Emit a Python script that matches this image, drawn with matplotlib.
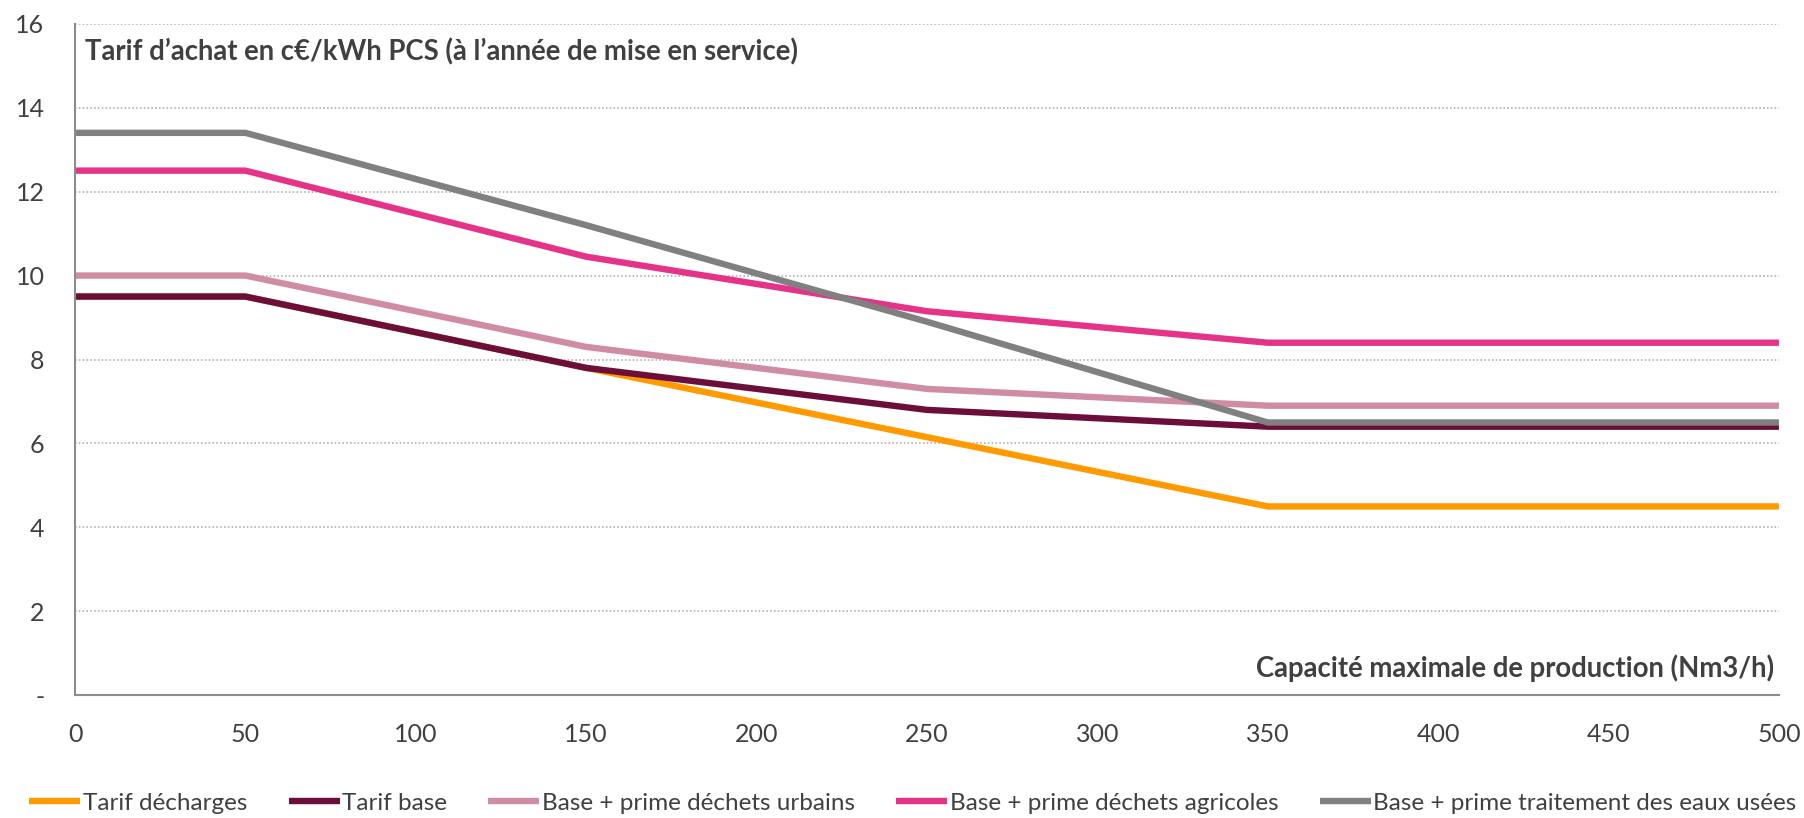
import matplotlib.pyplot as plt

plt.rcParams['font.family'] = ['Lato', 'DejaVu Sans']

# capacity breakpoints (Nm3/h)
capacity = [0, 50, 150, 250, 350, 500]

# purchase tariffs in c€/kWh PCS
tarif_decharges = [9.5, 9.5, 7.8, 6.15, 4.5, 4.5]
tarif_base = [9.5, 9.5, 7.8, 6.8, 6.4, 6.4]
prime_urbains = [10.0, 10.0, 8.3, 7.3, 6.9, 6.9]
prime_agricoles = [12.5, 12.5, 10.45, 9.15, 8.4, 8.4]
prime_eaux = [13.4, 13.4, 11.2, 8.9, 6.5, 6.5]

series_names = ["Tarif décharges", "Tarif base", "Base + prime déchets urbains",
                "Base + prime déchets agricoles", "Base + prime traitement des eaux usées"]
series_values = [tarif_decharges, tarif_base, prime_urbains, prime_agricoles, prime_eaux]
series_colors = ["#FF9A00", "#6B0F3A", "#D08CA3", "#E6338A", "#808080"]

y_ticks = [0, 2, 4, 6, 8, 10, 12, 14, 16]
y_ticklabels = ["-", "2", "4", "6", "8", "10", "12", "14", "16"]
x_ticks = [0, 50, 100, 150, 200, 250, 300, 350, 400, 450, 500]

fig = plt.figure(figsize=(18.04, 8.18), dpi=100)
ax = fig.add_axes([0.0416, 0.150, 0.9445, 0.821])

for name, vals, col in zip(series_names, series_values, series_colors):
    ax.plot(capacity, vals, color=col, lw=4.6, label=name, solid_capstyle='butt')

ax.set_xlim(0, 500)
ax.set_ylim(0, 16)
ax.set_yticks(y_ticks)
ax.set_yticklabels(y_ticklabels)
ax.set_xticks(x_ticks)
ax.tick_params(axis='both', length=0, labelsize=18, labelcolor='#404040')
ax.tick_params(axis='x', pad=20)
ax.tick_params(axis='y', pad=22)

# dotted horizontal gridlines
for yv in y_ticks[1:]:
    ax.axhline(yv, color='#A6A6A6', lw=1.1, ls=(0, (1, 1.5)), zorder=0)

for side in ['top', 'right']:
    ax.spines[side].set_visible(False)
for side in ['left', 'bottom']:
    ax.spines[side].set_color('#8C8C8C')
    ax.spines[side].set_linewidth(1.5)

ax.text(0.006, 0.958, "Tarif d’achat en c€/kWh PCS (à l’année de mise en service)",
        transform=ax.transAxes, fontsize=19.8, fontweight='bold', color='#404040',
        ha='left', va='center')
ax.text(0.997, 0.040, "Capacité maximale de production (Nm3/h)",
        transform=ax.transAxes, fontsize=19.8, fontweight='bold', color='#404040',
        ha='right', va='center')

fig.legend(loc='center', bbox_to_anchor=(0.506, 0.018), ncol=5, frameon=False,
           fontsize=17.5, handlelength=2.1, handletextpad=0.1, columnspacing=1.7,
           labelcolor='#404040')

fig.savefig('out.png', dpi=100)
